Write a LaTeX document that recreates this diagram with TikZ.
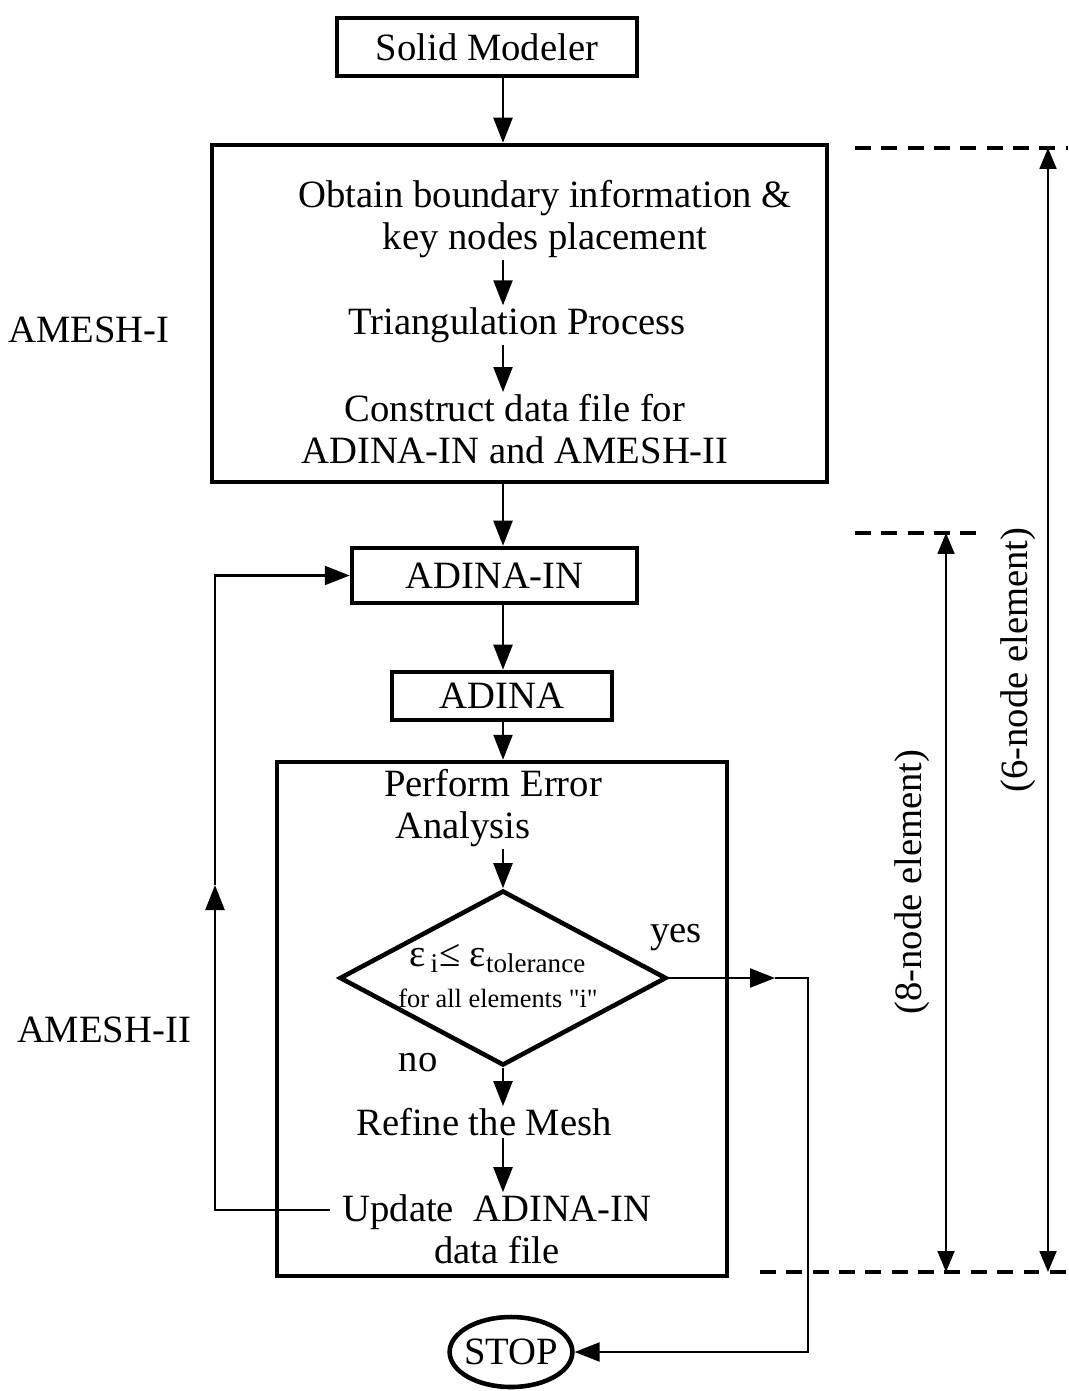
\documentclass[tikz,border=0pt]{standalone}
\usepackage{fontspec}
\setmainfont{Liberation Serif}[Ligatures=TeXOff]
\usetikzlibrary{arrows.meta, positioning, shapes.geometric}

\begin{document}
\begin{tikzpicture}[
    x=0.02cm, y=-0.02cm,
    font=\fontsize{22}{24}\selectfont,
    box/.style={rectangle, draw, line width=2.6pt, inner sep=0pt},
    txt/.style={align=center, inner sep=1pt},
    arrow/.style={-{Triangle[length=0.5cm, width=0.38cm]}, line width=1.3pt},
    dimline/.style={{Triangle[length=0.42cm, width=0.34cm]}-{Triangle[length=0.42cm, width=0.34cm]}, line width=1.1pt},
    guide/.style={line width=2pt, dash pattern=on 9pt off 6pt}
]
\useasboundingbox (0,0) rectangle (1068,1391);
\coordinate (axis) at (503,0);

% AMESH-I part
\node[box, minimum width=6cm, minimum height=1.16cm] (solid) at (487,47) {Solid Modeler};
\node[box, minimum width=12.3cm, minimum height=6.74cm] (amesh1) at (519.5,313.5) {};
\node[txt] (obtain) at (545,219) {Obtain boundary information \&\\key nodes placement};
\node[txt] (tri) at (517,325) {Triangulation Process};
\node[txt] (construct) at (515,429) {Construct data file for\\ADINA-IN and AMESH-II};
\node (lab1) at (89,330) {AMESH-I};

\draw[arrow] (solid.south -| axis) -- (amesh1.north -| axis);
\draw[arrow] (obtain.south -| axis) -- (tri.north -| axis);
\draw[arrow] (tri.south -| axis) -- (construct.north -| axis);

% AMESH-II part
\node[box, minimum width=5.7cm, minimum height=1.1cm] (adinain) at (494.5,575.5) {ADINA-IN};
\node[box, minimum width=4.4cm, minimum height=0.96cm] (adina) at (502,696) {ADINA};
\node[box, minimum width=9cm, minimum height=10.28cm] (amesh2) at (502,1019) {};
\node[txt, align=left, anchor=west] (perform) at (382,808) {Perform Error\\\hspace*{0.22cm}Analysis};
\node[draw, diamond, line width=2.6pt, inner sep=0pt, minimum width=6.54cm, minimum height=3.5cm] (test) at (503,978) {};
\node[txt] (cond) at (498,976) {ε\textsubscript{\,i}≤ ε\textsubscript{tolerance}\\[-1pt]{\fontsize{15}{17}\selectfont for all elements "i"}};
\node (yes) at (676,938) {yes};
\node (no) at (418,1063) {no};
\node[txt] (refine) at (484,1122) {Refine the Mesh};
\node[txt] (update) at (497,1229) {Update\ \ ADINA-IN\\data file};
\node (lab2) at (104,1030) {AMESH-II};
\node[draw, ellipse, line width=2.6pt, inner xsep=-2pt, inner ysep=0pt, minimum height=1.4cm] (stop) at (511,1352) {STOP};

\draw[arrow] (amesh1.south -| axis) -- (adinain.north -| axis);
\draw[arrow] (adinain.south -| axis) -- (adina.north -| axis);
\draw[arrow] (adina.south -| axis) -- (amesh2.north -| axis);
\draw[arrow] (perform.south -| axis) -- (test.north);
\draw[arrow] (test.south) -- (refine.north -| axis);
\draw[arrow] (refine.south -| axis) -- (update.north -| axis);

% loop back and exit
\coordinate (upd) at (330,1210);
\coordinate (fbmid) at (215,885);
\coordinate (yesmid) at (775,978);
\coordinate (yesbend) at (808,978);
\draw[arrow] (upd) -| (fbmid);
\draw[arrow] (fbmid) |- (adinain.west);
\draw[arrow] (test.east) -- (yesmid);
\draw[arrow] (yesmid) -- (yesbend) |- (stop.east);

% element ranges
\coordinate (g1a) at (855,148);
\coordinate (g1b) at (1068,148);
\coordinate (g2a) at (855,533);
\coordinate (g2b) at (985,533);
\coordinate (g3a) at (760,1272);
\coordinate (g3b) at (1068,1272);
\draw[guide] (g1a) -- (g1b);
\draw[guide] (g2a) -- (g2b);
\draw[guide] (g3a) -- (g3b);
\coordinate (top6) at (1048,148);
\coordinate (bot6) at (1048,1272);
\coordinate (top8) at (946,533);
\coordinate (bot8) at (946,1272);
\draw[dimline] (top6) -- (bot6);
\draw[dimline] (top8) -- (bot8);
\node[rotate=90] (lab6) at (1018,660) {(6-node element)};
\node[rotate=90] (lab8) at (912,882) {(8-node element)};
\end{tikzpicture}
\end{document}
